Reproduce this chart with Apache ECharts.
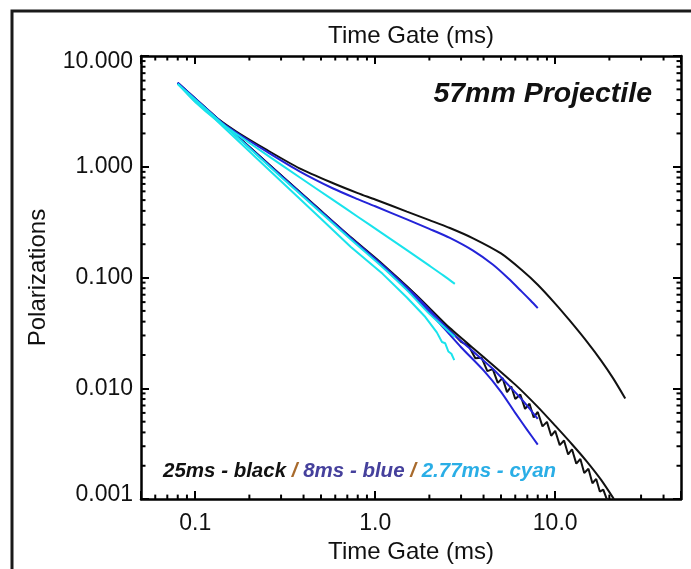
<!DOCTYPE html>
<html>
<head>
<meta charset="utf-8">
<script src="https://cdn.jsdelivr.net/npm/echarts@6/dist/echarts.min.js"></script>
<style>
  html, body { margin: 0; padding: 0; background: #fff; }
  #chart { width: 691px; height: 569px; }
</style>
</head>
<body>
<div id="chart"></div>
<script>
// ---- Decay curves: time gate (ms) vs polarization, one upper and two lower per pulse length ----

// 25 ms pulse (black)
const black1T = [0.08, 0.1, 0.13, 0.17, 0.25, 0.38, 0.58, 0.8, 1.0, 1.5, 2.0, 2.6, 3.5, 5.0, 6.5, 8.0, 10, 12, 15, 18, 21, 24.5];
const black1V = [5.7, 3.92, 2.79, 2.07, 1.42, 0.968, 0.714, 0.579, 0.507, 0.394, 0.330, 0.280, 0.226, 0.165, 0.1175, 0.0861, 0.0582, 0.0412, 0.0264, 0.0178, 0.0123, 0.0081];

const black2T = [0.08, 0.15, 0.3, 0.5, 0.73, 1.1, 1.7, 2.6, 4.0, 6.0, 8.0, 10, 12.5, 15, 18, 21.2];
const black2V = [5.7, 2.29, 0.84, 0.40, 0.232, 0.132, 0.069, 0.035, 0.0192, 0.0108, 0.0068, 0.0046, 0.00308, 0.00218, 0.00149, 0.001];

const black3T = [0.08, 0.3, 0.73, 1.5, 2.2, 2.6, 3.0, 3.3, 3.6, 3.9, 4.2, 4.5, 4.8, 5.1, 5.4, 5.7, 6.0, 6.4, 6.8, 7.2, 7.6, 8.0, 8.5, 9.0, 9.5, 10.0, 10.6, 11.2, 11.8, 12.4, 13.1, 13.8, 14.5, 15.3, 16.1, 16.9, 17.7, 18.5, 19.3, 19.8];
const black3V = [5.7, 0.835, 0.228, 0.083, 0.045, 0.0335, 0.0263, 0.0243, 0.0187, 0.0189, 0.0143, 0.0149, 0.0112, 0.0124, 0.00925, 0.0104, 0.0080, 0.0088, 0.00653, 0.00726, 0.00546, 0.00612, 0.00453, 0.00498, 0.00373, 0.00414, 0.00307, 0.00338, 0.00253, 0.00282, 0.00209, 0.00230, 0.00172, 0.00188, 0.00139, 0.00152, 0.00117, 0.00122, 0.00101, 0.00095];

// 8 ms pulse (blue)
const blue1T = [0.08, 0.1, 0.13, 0.17, 0.25, 0.38, 0.58, 0.8, 1.0, 1.5, 2.0, 2.6, 3.5, 4.5, 5.5, 6.5, 7.3, 8.0];
const blue1V = [5.75, 3.9, 2.76, 2.03, 1.37, 0.91, 0.64, 0.51, 0.44, 0.335, 0.275, 0.228, 0.175, 0.131, 0.098, 0.075, 0.062, 0.053];

const blue2T = [0.08, 0.15, 0.3, 0.5, 0.73, 1.1, 1.7, 2.6, 3.5, 4.5, 5.5, 6.5, 7.3, 8.0];
const blue2V = [5.75, 2.28, 0.83, 0.395, 0.229, 0.129, 0.067, 0.033, 0.0215, 0.0150, 0.0107, 0.0080, 0.0064, 0.0053];

const blue3T = [0.08, 0.15, 0.3, 0.5, 0.73, 1.1, 1.7, 2.3, 3.0, 4.0, 5.0, 6.0, 7.0, 8.0];
const blue3V = [5.7, 2.27, 0.82, 0.39, 0.226, 0.126, 0.064, 0.038, 0.0235, 0.0145, 0.0093, 0.0060, 0.0042, 0.0031];

// 2.77 ms pulse (cyan)
const cyan1T = [0.08, 0.1, 0.13, 0.17, 0.25, 0.38, 0.58, 0.8, 1.1, 1.5, 2.0, 2.4, 2.77];
const cyan1V = [5.6, 3.85, 2.68, 1.97, 1.28, 0.804, 0.505, 0.354, 0.249, 0.177, 0.128, 0.104, 0.0876];

const cyan2T = [0.08, 0.15, 0.3, 0.5, 0.73, 1.1, 1.5, 2.0, 2.4, 2.77];
const cyan2V = [5.6, 2.25, 0.81, 0.385, 0.222, 0.124, 0.077, 0.047, 0.036, 0.029];

const cyan3T = [0.08, 0.15, 0.3, 0.5, 0.73, 1.1, 1.5, 1.9, 2.2, 2.35, 2.45, 2.55, 2.65, 2.75];
const cyan3V = [5.6, 2.14, 0.74, 0.34, 0.19, 0.108, 0.066, 0.044, 0.032, 0.0262, 0.0255, 0.0215, 0.0205, 0.0180];

// ---- Axes ----
const X_MIN = 0.05, X_MAX = 50;
const Y_MIN = 0.001, Y_MAX = 10;
const xTickValues = [0.1, 1, 10];
const xTickLabels = ['0.1', '1.0', '10.0'];
const yTickValues = [0.001, 0.01, 0.1, 1, 10];
const yTickLabels = ['0.001', '0.010', '0.100', '1.000', '10.000'];
const xMinorTicks = [0.06, 0.07, 0.08, 0.09, 0.2, 0.3, 0.4, 0.5, 0.6, 0.7, 0.8, 0.9, 2, 3, 4, 5, 6, 7, 8, 9, 20, 30, 40];
const yMinorTicks = [];
[0.001, 0.01, 0.1, 1].forEach(function (d) {
  for (let k = 2; k <= 9; k++) yMinorTicks.push(+(d * k).toPrecision(3));
});

const FONT = '"Liberation Sans", Arial, sans-serif';
const INK = '#111';
const C_BLACK = '#111111';
const C_BLUE = '#2323d8';
const C_CYAN = '#19e3ec';

function pairs(ts, vs) { return ts.map(function (t, i) { return [t, vs[i]]; }); }

function labelIndex(values, v) {
  for (let i = 0; i < values.length; i++) {
    if (Math.abs(Math.log10(v) - Math.log10(values[i])) < 1e-6) return i;
  }
  return -1;
}

function xLabel(v) {
  const i = labelIndex(xTickValues, v);
  return i < 0 ? '' : xTickLabels[i];
}

// the end labels of the value axis sit just inside the frame
function yLabel(v) {
  const i = labelIndex(yTickValues, v);
  if (i < 0) return '';
  if (i === yTickValues.length - 1) return '{top|' + yTickLabels[i] + '}';
  if (i === 0) return '{bot|' + yTickLabels[i] + '}';
  return yTickLabels[i];
}

function curve(name, ts, vs, color, smooth) {
  return {
    name: name, type: 'line', data: pairs(ts, vs),
    showSymbol: false, symbol: 'none', smooth: smooth ? 0.25 : false,
    lineStyle: { color: color, width: 2 },
    itemStyle: { color: color },
    z: 3
  };
}

const MINOR = 4.5;
const tickStyle = { stroke: '#000', lineWidth: 2 };

const xMinorSeries = {
  type: 'custom', silent: true, clip: false, z: 6,
  data: xMinorTicks.map(function (t) { return [t, Y_MIN]; }),
  renderItem: function (params, api) {
    const t = api.value(0);
    const pb = api.coord([t, Y_MIN]);
    const pt = api.coord([t, Y_MAX]);
    return {
      type: 'group', children: [
        { type: 'line', shape: { x1: pb[0], y1: pb[1], x2: pb[0], y2: pb[1] - MINOR }, style: tickStyle },
        { type: 'line', shape: { x1: pt[0], y1: pt[1], x2: pt[0], y2: pt[1] + MINOR }, style: tickStyle }
      ]
    };
  }
};

const yMinorSeries = {
  type: 'custom', silent: true, clip: false, z: 6,
  data: yMinorTicks.map(function (v) { return [X_MIN, v]; }),
  renderItem: function (params, api) {
    const v = api.value(1);
    const pl = api.coord([X_MIN, v]);
    const pr = api.coord([X_MAX, v]);
    return {
      type: 'group', children: [
        { type: 'line', shape: { x1: pl[0], y1: pl[1], x2: pl[0] + MINOR, y2: pl[1] }, style: tickStyle },
        { type: 'line', shape: { x1: pr[0], y1: pr[1], x2: pr[0] - MINOR, y2: pr[1] }, style: tickStyle }
      ]
    };
  }
};

const axisLine = { show: true, onZero: false, lineStyle: { color: '#000', width: 2.5 } };
const majorTick = { show: true, inside: true, length: 8, lineStyle: { color: '#000', width: 2 } };
const labelFont = { color: INK, fontFamily: FONT, fontSize: 23 };

const chart = echarts.init(document.getElementById('chart'), null, { renderer: 'canvas' });

chart.setOption({
  animation: false,
  backgroundColor: '#fff',
  grid: { left: 141, right: 10, top: 56, bottom: 66, containLabel: false },
  xAxis: [
    {
      type: 'log', logBase: 10, min: X_MIN, max: X_MAX, position: 'bottom',
      axisLine: axisLine, axisTick: majorTick, splitLine: { show: false }, minorTick: { show: false },
      axisLabel: Object.assign({ margin: 13, formatter: xLabel }, labelFont),
      name: 'Time Gate (ms)', nameLocation: 'middle', nameGap: 40,
      nameTextStyle: { color: INK, fontFamily: FONT, fontSize: 24 }
    },
    {
      type: 'log', logBase: 10, min: X_MIN, max: X_MAX, position: 'top',
      axisLine: axisLine, axisTick: majorTick, splitLine: { show: false }, minorTick: { show: false },
      axisLabel: { show: false },
      name: 'Time Gate (ms)', nameLocation: 'middle', nameGap: 8,
      nameTextStyle: { color: INK, fontFamily: FONT, fontSize: 24 }
    }
  ],
  yAxis: [
    {
      type: 'log', logBase: 10, min: Y_MIN, max: Y_MAX, position: 'left',
      axisLine: axisLine, axisTick: majorTick, splitLine: { show: false }, minorTick: { show: false },
      axisLabel: Object.assign({
        margin: 8, formatter: yLabel,
        rich: {
          top: Object.assign({ padding: [12, 0, 0, 0] }, labelFont),
          bot: Object.assign({ padding: [0, 0, 8, 0] }, labelFont)
        }
      }, labelFont),
      name: 'Polarizations', nameLocation: 'middle', nameGap: 91,
      nameTextStyle: { color: INK, fontFamily: FONT, fontSize: 24 }
    },
    {
      type: 'log', logBase: 10, min: Y_MIN, max: Y_MAX, position: 'right',
      axisLine: axisLine, axisTick: majorTick, splitLine: { show: false }, minorTick: { show: false },
      axisLabel: { show: false }
    }
  ],
  graphic: [
    {
      type: 'rect', silent: true, z: 0,
      shape: { x: 12, y: 11, width: 720, height: 620 },
      style: { fill: 'none', stroke: '#1a1a1a', lineWidth: 3 }
    },
    {
      type: 'text', silent: true, z: 10,
      x: 652, y: 94,
      style: {
        text: '57mm Projectile', fill: '#111',
        font: 'italic bold 28.5px ' + FONT,
        textAlign: 'right', textVerticalAlign: 'middle'
      }
    },
    {
      type: 'text', silent: true, z: 10,
      x: 163, y: 471,
      style: {
        text: '{k|25ms - black} {s|/} {b|8ms - blue} {s|/} {c|2.77ms - cyan}',
        font: 'italic bold 20.5px ' + FONT,
        textVerticalAlign: 'middle',
        rich: {
          k: { fill: '#111', font: 'italic bold 20.5px ' + FONT },
          s: { fill: '#a86a2c', font: 'italic bold 20.5px ' + FONT },
          b: { fill: '#45409c', font: 'italic bold 20.5px ' + FONT },
          c: { fill: '#2aaee6', font: 'italic bold 20.5px ' + FONT }
        }
      }
    }
  ],
  series: [
    curve('25ms upper', black1T, black1V, C_BLACK, true),
    curve('25ms lower a', black2T, black2V, C_BLACK, true),
    curve('25ms lower b', black3T, black3V, C_BLACK, false),
    curve('8ms upper', blue1T, blue1V, C_BLUE, true),
    curve('8ms lower a', blue2T, blue2V, C_BLUE, true),
    curve('8ms lower b', blue3T, blue3V, C_BLUE, true),
    curve('2.77ms upper', cyan1T, cyan1V, C_CYAN, true),
    curve('2.77ms lower a', cyan2T, cyan2V, C_CYAN, true),
    curve('2.77ms lower b', cyan3T, cyan3V, C_CYAN, false),
    xMinorSeries,
    yMinorSeries
  ]
});
</script>
</body>
</html>
